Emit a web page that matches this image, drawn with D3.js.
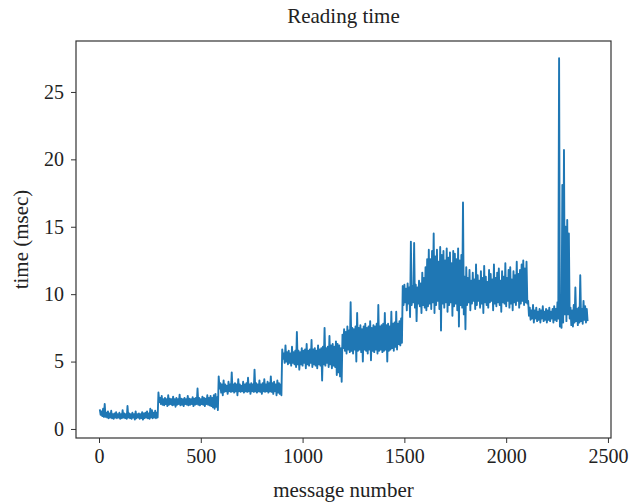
<!DOCTYPE html>
<html>
<head>
<meta charset="utf-8">
<script src="https://cdn.jsdelivr.net/npm/d3@7"></script>
<style>
  html, body { margin: 0; padding: 0; background: #fff; }
  svg { display: block; }
  text { font-family: "Liberation Serif", "DejaVu Serif", serif; fill: #222; }
</style>
</head>
<body>
<svg id="chart" width="638" height="504"></svg>
<script>
// ---- data ----
const titleText = "Reading time";
const xLabel = "message number";
const yLabel = "time (msec)";
const xTicks = [0, 500, 1000, 1500, 2000, 2500];
const yTicks = [0, 5, 10, 15, 20, 25];
const msgStart = 4;   // first message number sampled
const binSize = 8;    // messages per bin; each bin has a high and a low reading

// per-bin high / low reading times (msec), segment by segment
const hiA = [1.45,1.3,1.5,1.85,1.2,1.3,1.15,1.35,1.1,1.15,1.25,1.1,1.2,1.1,1.4,1.15,1.1,1.7,1.15,1.1,1.2,1.1,1.3,1.1,1.15,1.1,1.25,1.15,1.2,1.3,1.15,1.5,1.4,1.2,1.35,1.2];
const loA = [1.05,0.95,0.9,0.9,0.85,0.8,0.85,0.8,0.75,0.85,0.8,0.85,0.75,0.8,0.85,0.8,0.75,0.85,0.8,0.75,0.85,0.7,0.8,0.85,0.75,0.8,0.7,0.8,0.85,0.8,0.75,0.85,0.8,0.85,0.8,0.85];
const hiB = [2.7,2.3,2.45,2.2,2.3,2.2,2.5,2.25,2.2,2.4,2.2,2.3,2.2,2.55,2.25,2.2,2.3,2.2,2.45,2.25,2.2,2.35,2.25,2.3,3.0,2.3,2.2,2.4,2.3,2.25,2.5,2.3,2.45,2.3,2.5,2.6,2.35];
const loB = [2.0,1.85,1.8,1.75,1.85,1.7,1.8,1.85,1.75,1.8,1.65,1.8,1.85,1.75,1.8,1.7,1.85,1.8,1.75,1.8,1.85,1.7,1.8,1.85,1.8,1.75,1.85,1.8,1.7,1.85,1.8,1.75,1.7,1.6,1.5,1.65,1.4];
const hiC = [3.9,3.4,3.3,3.6,3.3,3.2,3.5,3.3,4.2,3.3,3.4,3.3,3.7,3.3,3.2,3.5,3.3,3.4,3.8,3.3,3.4,3.3,4.4,3.4,3.3,3.6,3.3,3.4,3.7,3.3,3.5,3.4,3.9,3.4,3.5,3.3,3.6,3.4,3.3];
const loC = [3.0,2.7,2.5,2.75,2.8,2.6,2.8,2.75,2.8,2.7,2.8,2.5,2.8,2.75,2.8,2.7,2.8,2.75,2.8,2.6,2.8,2.75,2.8,2.7,2.8,2.75,2.6,2.8,2.75,2.8,2.7,2.8,2.75,2.6,2.8,2.5,2.7,2.6,2.5];
const hiD = [5.9,5.6,6.2,5.7,5.8,5.6,6.1,5.7,5.8,7.2,5.8,5.7,6.0,5.8,5.9,6.3,5.8,5.9,6.6,5.9,6.0,5.8,6.2,5.9,6.0,6.1,7.5,6.0,6.1,6.9,6.2,6.3,6.1,6.5,6.3,6.2,6.0];
const loD = [5.2,4.9,5.0,4.8,4.9,4.7,4.9,4.8,4.6,4.8,4.4,4.8,4.7,4.9,4.5,4.8,4.7,4.9,4.6,4.8,4.7,4.5,4.8,4.7,3.6,4.8,4.7,4.9,4.6,4.8,4.5,4.7,4.6,4.0,4.2,3.9,3.5];
const hiE = [7.0,7.4,7.2,7.6,7.3,9.4,7.5,7.4,7.6,8.6,7.5,7.7,7.4,7.6,7.8,7.5,7.6,8.0,7.5,7.7,7.6,7.8,9.2,7.6,7.7,7.8,8.6,7.7,7.8,7.6,8.7,7.8,7.9,8.7,7.8,8.0,8.2];
const loE = [6.0,5.8,5.6,5.9,5.7,5.8,5.6,5.9,5.0,5.8,5.9,5.7,5.0,5.9,5.8,5.6,5.9,5.1,5.8,5.7,5.9,5.6,5.8,5.9,5.7,5.8,5.9,5.0,5.8,5.9,6.0,5.8,6.1,5.9,6.3,6.2,6.4];
const hiF = [10.6,10.7,10.4,10.8,10.5,13.9,10.6,13.8,10.7,10.5,11.0,10.8,11.6,11.2,12.0,12.6,
             13.3,12.6,13.2,14.5,12.8,13.3,12.4,13.5,12.9,13.2,12.5,13.4,12.7,13.1,12.3,13.2,13.0,12.6,13.4,12.5,12.9,
             16.8,
             11.3,12.0,11.2,11.8,11.0,11.6,11.1,12.2,11.4,11.0,11.7,11.2,12.1,11.3,10.9,11.8,11.5,11.1,12.2,11.2,11.6,11.9,11.0,11.7,11.3,12.3,11.2,11.8,12.0,11.1,11.7,11.4,12.4,11.5,11.8,12.2,12.5,11.9,12.4];
const loF = [9.2,9.4,8.8,9.3,8.3,9.2,9.4,9.0,8.0,9.3,9.1,8.6,9.2,9.0,8.8,9.1,
             9.3,8.9,9.4,8.6,9.2,9.5,8.9,7.3,9.3,9.0,9.4,8.7,9.2,9.4,8.4,9.1,9.3,8.8,7.6,9.2,9.0,
             8.5,
             7.4,9.2,9.4,8.8,9.3,9.5,8.9,9.2,9.5,9.0,9.3,8.6,9.4,9.2,9.0,9.4,9.5,8.8,9.3,9.1,9.4,9.2,8.7,9.4,9.3,9.1,9.5,9.0,9.3,8.8,9.4,9.2,9.5,9.0,9.3,9.5,9.2,9.4,9.3];
const hiG = [9.5,9.0,8.8,9.2,8.8,9.0,8.7,8.9,8.8,9.1,8.7,8.9,8.8,9.0,8.7,8.9,9.1,8.9,9.4,27.5,8.9,18.1,20.7,15.0,15.5,14.5,9.0,8.8,9.2,10.5,8.9,9.0,11.4,8.9,9.5,9.1,8.9];
const loG = [8.4,8.1,8.2,7.9,8.2,8.0,8.1,7.9,8.2,8.0,8.1,7.9,8.1,8.0,8.2,7.9,8.1,8.0,8.2,7.6,7.5,7.9,8.5,8.0,8.5,8.2,7.7,7.6,7.9,8.0,7.7,7.9,8.0,7.8,8.1,7.9,8.0];

const highs = [].concat(hiA, hiB, hiC, hiD, hiE, hiF, hiG);
const lows  = [].concat(loA, loB, loC, loD, loE, loF, loG);
const data = [];
highs.forEach((h, j) => {
  const m = msgStart + j * binSize;
  data.push({ msg: m, t: h });
  data.push({ msg: m + binSize / 2, t: lows[j] });
});

// ---- layout ----
const svg = d3.select("#chart");
const plot = { left: 76, right: 611, top: 41, bottom: 438 };

const x = d3.scaleLinear().domain([-113, 2515]).range([plot.left, plot.right]);
const y = d3.scaleLinear().domain([-0.67, 28.78]).range([plot.bottom, plot.top]);

// line
const line = d3.line().x(d => x(d.msg)).y(d => y(d.t));
svg.append("path")
  .datum(data)
  .attr("d", line)
  .attr("fill", "none")
  .attr("stroke", "#1f77b4")
  .attr("stroke-width", 1.9)
  .attr("stroke-linejoin", "round");

// axes
const xAxis = d3.axisBottom(x).tickValues(xTicks).tickSize(5).tickPadding(6).tickFormat(d3.format("d"));
const yAxis = d3.axisLeft(y).tickValues(yTicks).tickSize(5).tickPadding(7).tickFormat(d3.format("d"));

const gx = svg.append("g").attr("transform", `translate(0,${plot.bottom})`).call(xAxis);
const gy = svg.append("g").attr("transform", `translate(${plot.left},0)`).call(yAxis);
[gx, gy].forEach(g => {
  g.select(".domain").remove();
  g.selectAll(".tick line").attr("stroke", "#333").attr("stroke-width", 1);
  g.selectAll(".tick text").attr("font-size", 20).attr("fill", "#222")
    .style("font-family", "'Liberation Serif', 'DejaVu Serif', serif");
});

// frame
svg.append("rect")
  .attr("x", plot.left).attr("y", plot.top)
  .attr("width", plot.right - plot.left).attr("height", plot.bottom - plot.top)
  .attr("fill", "none").attr("stroke", "#333").attr("stroke-width", 1.2);

// title & labels
svg.append("text").attr("x", (plot.left + plot.right) / 2).attr("y", 23)
  .attr("text-anchor", "middle").attr("font-size", 21).text(titleText);
svg.append("text").attr("x", (plot.left + plot.right) / 2).attr("y", 497)
  .attr("text-anchor", "middle").attr("font-size", 21).text(xLabel);
svg.append("text")
  .attr("transform", `translate(28,${(plot.top + plot.bottom) / 2}) rotate(-90)`)
  .attr("text-anchor", "middle").attr("font-size", 21).text(yLabel);
</script>
</body>
</html>
